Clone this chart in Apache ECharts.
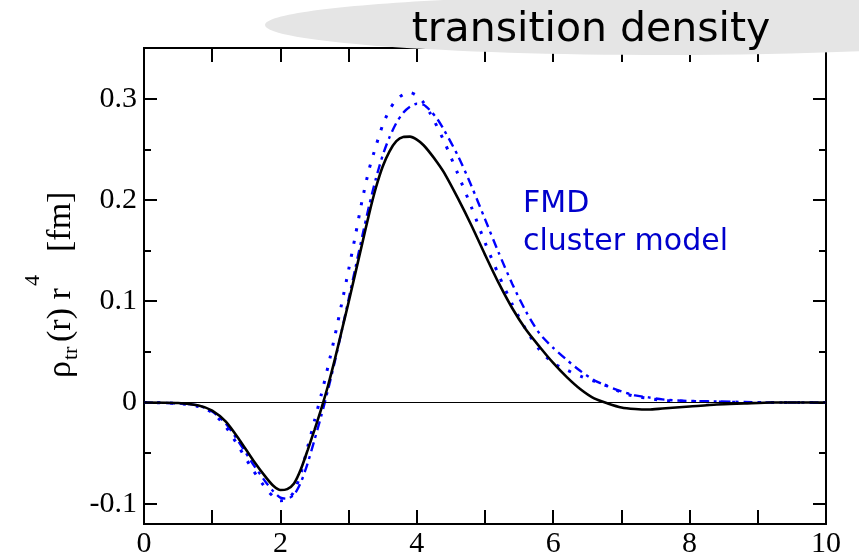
<!DOCTYPE html>
<html>
<head>
<meta charset="utf-8">
<script src="https://cdn.jsdelivr.net/npm/echarts@6/dist/echarts.min.js"></script>
<style>
  html, body { margin: 0; padding: 0; background: #ffffff; }
  #chart { width: 859px; height: 559px; }
</style>
</head>
<body>
<div id="chart"></div>
<script>
// radial grid r [fm]
const radius = [0, 0.5, 0.8, 1.0, 1.2, 1.4, 1.6, 1.8, 1.9, 2.0, 2.1, 2.2, 2.3, 2.4, 2.5, 2.6,
  2.7, 2.8, 2.9, 3.0, 3.1, 3.2, 3.3, 3.4, 3.5, 3.6, 3.7, 3.8, 3.9, 4.0, 4.1, 4.2, 4.3, 4.4,
  4.6, 4.8, 5.0, 5.2, 5.4, 5.6, 5.8, 6.0, 6.2, 6.4, 6.6, 6.8, 7.0, 7.2, 7.4, 7.6, 7.8, 8.0,
  8.4, 8.8, 9.2, 9.6, 10.0];

// rho_tr(r) r^4 [fm], solid black curve
const solidCurve = [0, -0.0005, -0.003, -0.008, -0.019, -0.037, -0.057, -0.075, -0.0825, -0.0865,
  -0.0855, -0.080, -0.066, -0.047, -0.027, -0.006, 0.017, 0.043, 0.071, 0.099, 0.128, 0.157,
  0.186, 0.212, 0.233, 0.248, 0.258, 0.2622, 0.2625, 0.2595, 0.254, 0.246, 0.237, 0.227,
  0.202, 0.175, 0.146, 0.118, 0.093, 0.072, 0.055, 0.039, 0.025, 0.013, 0.004, -0.001,
  -0.005, -0.0065, -0.007, -0.006, -0.005, -0.004, -0.002, -0.001, 0, 0, 0];

// FMD, dotted
const fmdCurve = [0, -0.001, -0.004, -0.010, -0.024, -0.045, -0.067, -0.086, -0.093, -0.097,
  -0.096, -0.088, -0.070, -0.044, -0.018, 0.008, 0.036, 0.066, 0.098, 0.131, 0.165, 0.200,
  0.230, 0.253, 0.274, 0.289, 0.299, 0.304, 0.306, 0.303, 0.296, 0.285, 0.272, 0.258,
  0.226, 0.193, 0.158, 0.126, 0.097, 0.072, 0.052, 0.039, 0.032, 0.026, 0.021, 0.016,
  0.010, 0.006, 0.004, 0.002, 0.0015, 0.001, 0.0005, 0, 0, 0, 0];

// cluster model, dash-dot
const clusterCurve = [0, -0.001, -0.003, -0.009, -0.021, -0.040, -0.061, -0.080, -0.088, -0.094,
  -0.095, -0.091, -0.079, -0.060, -0.037, -0.013, 0.013, 0.041, 0.071, 0.102, 0.133, 0.164,
  0.194, 0.221, 0.244, 0.262, 0.276, 0.286, 0.292, 0.295, 0.294, 0.288, 0.280, 0.269,
  0.244, 0.214, 0.181, 0.148, 0.117, 0.090, 0.068, 0.054, 0.042, 0.031, 0.022, 0.016,
  0.011, 0.007, 0.005, 0.003, 0.002, 0.0015, 0.001, 0.0005, 0, 0, 0];

const xTicks = [0, 1, 2, 3, 4, 5, 6, 7, 8, 9, 10];
const xTickLabels = [0, 2, 4, 6, 8, 10];
const yTickLabels = [-0.1, 0, 0.1, 0.2, 0.3];
const yMinorTicks = [-0.05, 0.05, 0.15, 0.25];

const pairs = vals => radius.map((r, i) => [r, vals[i]]);

const SERIF = '"Liberation Serif", "Times New Roman", serif';
const SANS = '"DejaVu Sans", sans-serif';
const frame = { show: true, onZero: false, lineStyle: { color: '#000', width: 2 } };

function xAxis(pos, labels) {
  return {
    type: 'value', position: pos, min: 0, max: 10,
    axisLine: frame,
    axisTick: { show: true, inside: true, length: 14, customValues: xTicks,
      lineStyle: { color: '#000', width: 2 } },
    axisLabel: labels ? { show: true, customValues: xTickLabels, fontFamily: SERIF,
      fontSize: 30, color: '#000', margin: 5 } : { show: false },
    splitLine: { show: false }
  };
}

function yAxis(pos, ticks, len, labels) {
  return {
    type: 'value', position: pos, min: -0.12, max: 0.35,
    axisLine: frame,
    axisTick: { show: true, inside: true, length: len, customValues: ticks,
      lineStyle: { color: '#000', width: 2 } },
    axisLabel: labels ? { show: true, customValues: yTickLabels, fontFamily: SERIF,
      fontSize: 30, color: '#000', margin: 7,
      formatter: v => (Math.abs(v) < 1e-9 ? '0' : v.toFixed(1)) } : { show: false },
    splitLine: { show: false }
  };
}

const curveLine = (vals, lineStyle, z) => ({
  type: 'line', data: pairs(vals), smooth: 0.25, showSymbol: false, lineStyle, z
});

const chart = echarts.init(document.getElementById('chart'), null, { renderer: 'canvas' });

const solidSeries = curveLine(solidCurve, { color: '#000', width: 2.6 }, 5);
solidSeries.markLine = {
  silent: true, symbol: 'none', label: { show: false },
  lineStyle: { color: '#000', width: 1, type: 'solid' },
  data: [{ yAxis: 0 }]
};

chart.setOption({
  animation: false,
  backgroundColor: '#ffffff',
  grid: { left: 144, right: 33, top: 48, bottom: 34 },
  xAxis: [xAxis('bottom', true), xAxis('top', false)],
  yAxis: [
    yAxis('left', yTickLabels, 13, true),
    yAxis('left', yMinorTicks, 7, false),
    yAxis('right', yTickLabels, 13, false),
    yAxis('right', yMinorTicks, 7, false)
  ],
  series: [
    solidSeries,
    curveLine(fmdCurve, { color: '#0000ff', width: 3, type: [3, 10] }, 4),
    curveLine(clusterCurve, { color: '#0000ff', width: 2.4, type: [9, 5, 3, 5] }, 4)
  ],
  graphic: [
    { type: 'ellipse', shape: { cx: 665, cy: 25, rx: 400, ry: 30 },
      style: { fill: '#e5e5e5' }, z: 100 },
    { type: 'text', x: 591, y: 30, z: 101,
      style: { text: 'transition density', font: '41px ' + SANS, fill: '#000',
        align: 'center', verticalAlign: 'middle' } },
    { type: 'text', x: 523, y: 204, z: 101,
      style: { text: 'FMD', font: '30px ' + SANS, fill: '#0000cc',
        align: 'left', verticalAlign: 'middle' } },
    { type: 'text', x: 523, y: 242, z: 101,
      style: { text: 'cluster model', font: '30px ' + SANS, fill: '#0000cc',
        align: 'left', verticalAlign: 'middle' } },
    {
      // vertical axis title: rho_tr(r) r^4 [fm], read bottom to top
      type: 'group', x: 71, y: 378, rotation: Math.PI / 2, z: 101,
      children: [
        { type: 'text', x: 0, y: -10,
          style: { text: 'ρ', font: '34px ' + SERIF, fill: '#000', align: 'left', verticalAlign: 'middle' } },
        { type: 'text', x: 18, y: 0.4,
          style: { text: 'tr', font: '22px ' + SERIF, fill: '#000', align: 'left', verticalAlign: 'middle' } },
        { type: 'text', x: 36, y: -10,
          style: { text: '(r) r', font: '34px ' + SERIF, fill: '#000', align: 'left', verticalAlign: 'middle' } },
        { type: 'text', x: 92, y: -37.6,
          style: { text: '4', font: '22px ' + SERIF, fill: '#000', align: 'left', verticalAlign: 'middle' } },
        { type: 'text', x: 126, y: -10,
          style: { text: '[fm]', font: '34px ' + SERIF, fill: '#000', align: 'left', verticalAlign: 'middle' } }
      ]
    }
  ]
});
</script>
</body>
</html>
